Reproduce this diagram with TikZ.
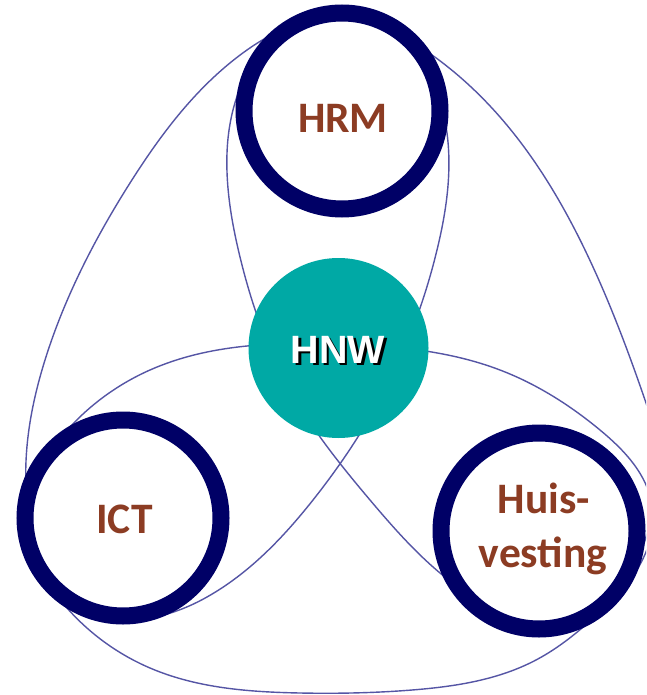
\documentclass[tikz,border=0pt]{standalone}
\usepackage{fontspec}
\usetikzlibrary{hobby}
\newfontfamily\calib{Carlito}
\newfontfamily\arialf{Liberation Sans}
\definecolor{ringblue}{RGB}{0,0,102}
\definecolor{coreteal}{RGB}{0,169,165}
\definecolor{brownt}{RGB}{140,60,35}
\definecolor{loopblue}{RGB}{85,85,165}
\begin{document}
\begin{tikzpicture}[x=1pt,y=-1pt,
  ring/.style={circle,draw=ringblue,line width=17pt,fill=white,minimum size=196pt,inner sep=0pt},
  core/.style={circle,fill=coreteal,minimum size=180pt,inner sep=0pt},
  lbl/.style={text=brownt,font=\calib\bfseries\fontsize{43.5}{52}\selectfont,inner sep=0pt,anchor=base},
  hnwtext/.style={font=\arialf\bfseries\fontsize{39.5}{44}\selectfont,inner sep=0pt,anchor=base},
  loopline/.style={draw=loopblue,line width=1.4pt}]
\useasboundingbox (0,0) rectangle (646,695);
\fill[white] (0,0) rectangle (646,695);
\begin{scope}
\clip (0,0) rectangle (646,695);
% loop HRM - ICT
\draw[loopline,use Hobby shortcut,closed=true] (370,22) .. (447,133) .. (437,250) .. (390,380) .. (313,500) .. (207,597) .. (90,610) .. (27,500) .. (45,360) .. (130,183) .. (247,50) .. (370,22);
% loop HRM - Huisvesting
\draw[loopline,use Hobby shortcut,closed=true] (300,25) .. (432,55) .. (500,117) .. (593,267) .. (645,400) .. (660,470) .. (648,530) .. (625,585) .. (590,612) .. (440,573) .. (370,500) .. (290,390) .. (240,257) .. (227,153) .. (300,25);
% loop ICT - Huisvesting
\draw[loopline,use Hobby shortcut,closed=true] (28,520) .. (70,427) .. (150,370) .. (338,344) .. (500,370) .. (600,430) .. (652,505) .. (630,580) .. (600,612) .. (536,660) .. (412,690) .. (300,693) .. (150,668) .. (67,608) .. (28,520);
\end{scope}
\node[ring] (hrm) at (342,111) {};
\node[ring] (ict) at (123,518) {};
\node[ring] (huis) at (539,531) {};
\node[core] (hnw) at (338.5,348) {};
\node[lbl] (hrmtext) at (343,133) {HRM};
\node[lbl] (icttext) at (124.5,533) {ICT};
\node[lbl] (huistext1) at (544,513) {Huis-};
\node[lbl] (huistext2) at (543,567) {vesting};
\node[hnwtext,text=black] (hnwshadow) at (340.5,365.5) {HNW};
\node[hnwtext,text=white] (hnwlabel) at (338,363) {HNW};
\end{tikzpicture}
\end{document}
